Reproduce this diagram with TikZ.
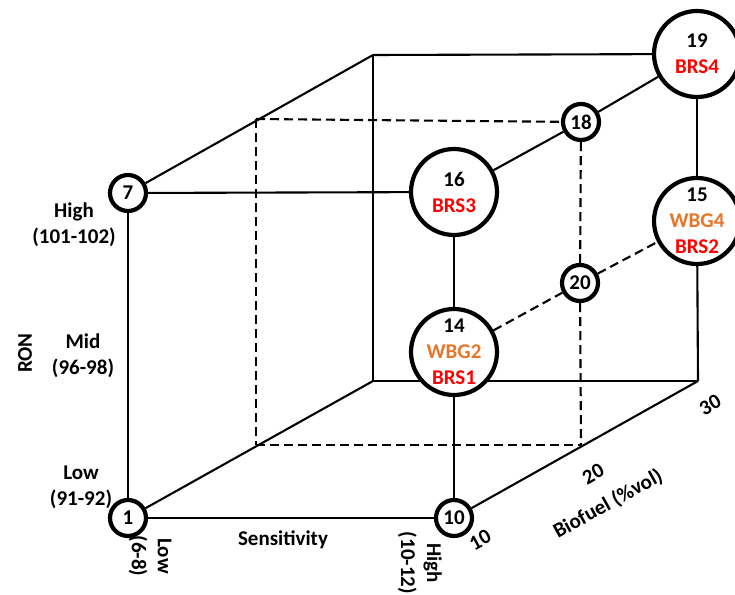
\documentclass[tikz,border=0pt]{standalone}
\usepackage{fontspec}
\setmainfont{Carlito}
\usetikzlibrary{backgrounds}
\definecolor{wbg}{RGB}{232,118,40}
\definecolor{brs}{RGB}{255,0,0}
\begin{document}
\begin{tikzpicture}[x=1pt,y=-1pt,
  every node/.style={font=\fontsize{21}{26}\selectfont\bfseries},
  smallc/.style={circle,draw,line width=4.2pt,fill=white,minimum size=36pt,inner sep=0pt},
  bigc/.style={circle,draw,line width=4.2pt,fill=white,minimum size=86pt,inner sep=0pt},
  edge/.style={line width=2.1pt},
  dedge/.style={line width=2.1pt,dash pattern=on 9pt off 5pt},
  lab/.style={align=center,inner sep=0pt},
]
\useasboundingbox (0,0) rectangle (735,594);
\clip (0,0) rectangle (735,594);

% corners
\coordinate (B00) at (373,381);
\coordinate (B10) at (698,381);
\coordinate (B01) at (373,55);
\coordinate (M00) at (256,445);
\coordinate (M10) at (581,445);
\coordinate (M01) at (256,119);

% nodes
\node[smallc] (n1) at (128,518) {1};
\node[smallc] (n10) at (454,518) {10};
\node[smallc] (n7) at (128,193) {7};
\node[smallc] (n18) at (581,122) {18};
\node[smallc] (n20) at (580,283) {20};
\node[bigc] (n16) at (454,192) {};
\node[bigc] (n14) at (454,352) {};
\node[bigc] (n15) at (697,221) {};
\node[bigc] (n19) at (697,54) {};

\node[lab] (t16) at (n16) {16\\\textcolor{brs}{BRS3}};
\node[lab] (t14) at (n14) {14\\\textcolor{wbg}{WBG2}\\\textcolor{brs}{BRS1}};
\node[lab] (t15) at (n15) {15\\\textcolor{wbg}{WBG4}\\\textcolor{brs}{BRS2}};
\node[lab] (t19) at (n19) {19\\\textcolor{brs}{BRS4}};

% edges
\begin{pgfonlayer}{background}
\draw[edge] (n1) -- (n10);
\draw[edge] (n1) -- (n7);
\draw[edge] (n7) -- (n16);
\draw[edge] (n16) -- (n14);
\draw[edge] (n14) -- (n10);
\draw[edge] (n1) -- (B00);
\draw[edge] (n7) -- (B01);
\draw[edge] (B01) -- (n19);
\draw[edge] (B01) -- (B00);
\draw[edge] (B00) -- (B10);
\draw[edge] (n19) -- (n15);
\draw[edge] (n15) -- (B10);
\draw[edge] (B10) -- (n10);
\draw[edge] (n16) -- (n18);
\draw[edge] (n18) -- (n19);
\draw[dedge] (M01) -- (n18);
\draw[dedge] (M01) -- (M00);
\draw[dedge] (M00) -- (M10);
\draw[dedge] (n18) -- (n20);
\draw[dedge] (n20) -- (M10);
\draw[dedge] (n14) -- (n20);
\draw[dedge] (n20) -- (n15);
\end{pgfonlayer}

% labels
\node[lab] (lhigh) at (74,225) {High\\(101-102)};
\node[lab] (lmid) at (83,356) {Mid\\(96-98)};
\node[lab] (llow) at (81,487) {Low\\(91-92)};
\node[rotate=90] (ron) at (25,353) {RON};
\node (sens) at (283,540) {Sensitivity};
\node[lab,rotate=-90] (slow) at (150,556) {Low\\(6-8)};
\node[lab,rotate=-90] (shigh) at (420,563) {High\\(10-12)};
\node[rotate=29] (b10) at (480,540) {10};
\node[rotate=29,inner sep=1pt] (b20) at (593,474) {20};
\node[rotate=29,inner sep=1pt] (b30) at (710,405) {30};
\node[rotate=29,inner sep=1pt] (bio) at (608,504) {Biofuel (\%vol)};
\end{tikzpicture}
\end{document}
